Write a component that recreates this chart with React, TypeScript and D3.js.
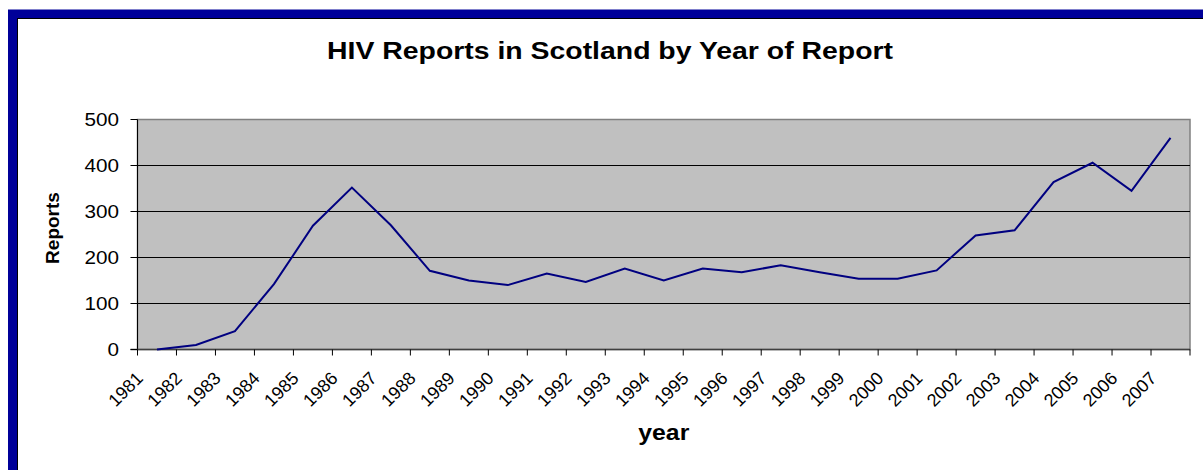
import React from "react";
import * as d3 from "d3";

const years: string[] = [
  "1981","1982","1983","1984","1985","1986","1987","1988","1989","1990",
  "1991","1992","1993","1994","1995","1996","1997","1998","1999","2000",
  "2001","2002","2003","2004","2005","2006","2007",
];
const reports: number[] = [
  0, 10, 40, 142, 269, 352, 270, 171, 150, 140,
  165, 147, 176, 150, 176, 168, 183, 168, 154, 154,
  172, 248, 259, 364, 406, 345, 460,
];
const yTicks: number[] = [0, 100, 200, 300, 400, 500];

const W = 1203;
const H = 470;
const plot = { left: 137.5, right: 1190, top: 119.5, bottom: 349.5 };

export default function App() {
  const x = d3.scaleBand<string>().domain(years).range([plot.left, plot.right]).padding(0);
  const y = d3.scaleLinear().domain([0, 500]).range([plot.bottom, plot.top]);
  const line = d3
    .line<number>()
    .x((_, i) => (x(years[i]) as number) + x.bandwidth() / 2)
    .y((d) => y(d));
  const font = "'Liberation Sans', Arial, sans-serif";
  const bounds = [...years.map((yr) => x(yr) as number), plot.right];

  return (
    <svg
      width={W}
      height={H}
      style={{ position: "absolute", left: 0, top: 0, background: "#fff" }}
      fontFamily={font}
    >
      <rect x={0} y={0} width={W} height={H} fill="#fff" />
      {/* frame */}
      <rect x={12.5} y={14} width={1400} height={800} fill="none" stroke="#000099" strokeWidth={9} />
      <rect x={17.5} y={18.5} width={1400} height={800} fill="none" stroke="#000" strokeWidth={1} />

      {/* plot area */}
      <rect
        x={plot.left}
        y={plot.top}
        width={plot.right - plot.left}
        height={plot.bottom - plot.top}
        fill="#C0C0C0"
        stroke="#808080"
        strokeWidth={1.5}
      />
      {yTicks.filter((t) => t > 0 && t < 500).map((t) => (
        <line key={t} x1={plot.left} x2={plot.right} y1={y(t)} y2={y(t)} stroke="#000" strokeWidth={1} />
      ))}
      {/* axes */}
      <line x1={plot.left} x2={plot.left} y1={plot.top} y2={plot.bottom} stroke="#000" strokeWidth={1} />
      <line x1={plot.left - 7} x2={plot.right} y1={plot.bottom} y2={plot.bottom} stroke="#404040" strokeWidth={1.5} />
      {yTicks.map((t) => (
        <g key={"yt" + t}>
          <line x1={plot.left - 7} x2={plot.left} y1={y(t)} y2={y(t)} stroke="#000" strokeWidth={1} />
          <g transform={`translate(119,${y(t)}) scale(1.17,1)`}>
            <text x={0} y={0} dy="0.36em" textAnchor="end" fontSize={17.7} fill="#000">
              {t}
            </text>
          </g>
        </g>
      ))}
      {bounds.map((b, i) => (
        <line key={"xt" + i} x1={b} x2={b} y1={plot.bottom} y2={plot.bottom + 6} stroke="#000" strokeWidth={1} />
      ))}
      {years.map((yr) => {
        const cx = (x(yr) as number) + x.bandwidth() / 2;
        return (
          <text
            key={yr}
            transform={`translate(${cx - 13},${plot.bottom + 30}) rotate(-45)`}
            textAnchor="end"
            fontSize={18}
            fill="#000"
          >
            {yr}
          </text>
        );
      })}

      <path d={line(reports) || ""} fill="none" stroke="#000080" strokeWidth={2} strokeLinejoin="miter" />

      {/* titles */}
      <text
        x={610}
        y={59}
        textAnchor="middle"
        fontSize={24}
        fontWeight="bold"
        fill="#000"
        textLength={566}
        lengthAdjust="spacingAndGlyphs"
      >
        HIV Reports in Scotland by Year of Report
      </text>
      <text transform="translate(58.6,228) rotate(-90)" textAnchor="middle" fontSize={19} fontWeight="bold" fill="#000">
        Reports
      </text>
      <text
        x={663.8}
        y={440}
        textAnchor="middle"
        fontSize={22}
        fontWeight="bold"
        fill="#000"
        textLength={51}
        lengthAdjust="spacingAndGlyphs"
      >
        year
      </text>
    </svg>
  );
}
